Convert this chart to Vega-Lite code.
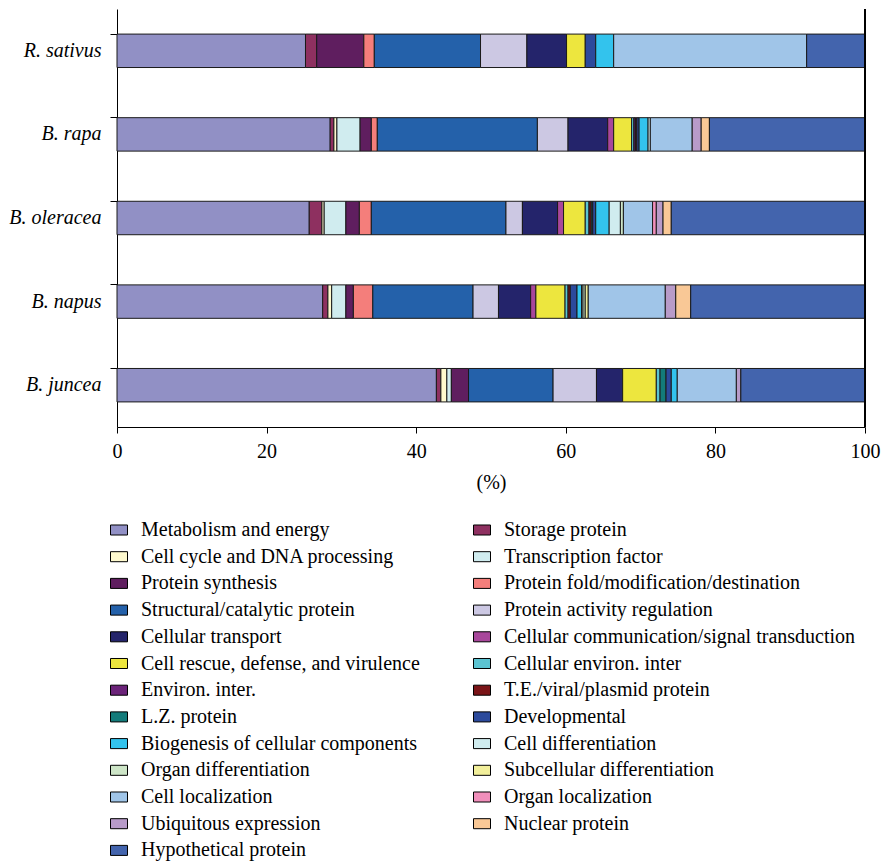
{
  "$schema": "https://vega.github.io/schema/vega-lite/v6.json",
  "width": 748,
  "height": 418,
  "autosize": {"type": "none"},
  "padding": {"left": 117, "top": 9, "right": 17, "bottom": 434},
  "background": "white",
  "config": {
    "view": {"stroke": null},
    "font": "Liberation Serif"
  },
  "data": {
    "values": [
      {"species": "R. sativus", "category": "Metabolism and energy", "value": 25.2},
      {"species": "R. sativus", "category": "Storage protein", "value": 1.5},
      {"species": "R. sativus", "category": "Protein synthesis", "value": 6.3},
      {"species": "R. sativus", "category": "Protein fold/modification/destination", "value": 1.4},
      {"species": "R. sativus", "category": "Structural/catalytic protein", "value": 14.2},
      {"species": "R. sativus", "category": "Protein activity regulation", "value": 6.2},
      {"species": "R. sativus", "category": "Cellular transport", "value": 5.3},
      {"species": "R. sativus", "category": "Cell rescue, defense, and virulence", "value": 2.5},
      {"species": "R. sativus", "category": "Developmental", "value": 1.4},
      {"species": "R. sativus", "category": "Biogenesis of cellular components", "value": 2.4},
      {"species": "R. sativus", "category": "Cell localization", "value": 25.8},
      {"species": "R. sativus", "category": "Hypothetical protein", "value": 7.8},

      {"species": "B. rapa", "category": "Metabolism and energy", "value": 28.5},
      {"species": "B. rapa", "category": "Storage protein", "value": 0.5},
      {"species": "B. rapa", "category": "Cell cycle and DNA processing", "value": 0.4},
      {"species": "B. rapa", "category": "Transcription factor", "value": 3.1},
      {"species": "B. rapa", "category": "Protein synthesis", "value": 1.5},
      {"species": "B. rapa", "category": "Protein fold/modification/destination", "value": 0.8},
      {"species": "B. rapa", "category": "Structural/catalytic protein", "value": 21.4},
      {"species": "B. rapa", "category": "Protein activity regulation", "value": 4.1},
      {"species": "B. rapa", "category": "Cellular transport", "value": 5.3},
      {"species": "B. rapa", "category": "Cellular communication/signal transduction", "value": 0.8},
      {"species": "B. rapa", "category": "Cell rescue, defense, and virulence", "value": 2.4},
      {"species": "B. rapa", "category": "Cellular environ. inter", "value": 0.3},
      {"species": "B. rapa", "category": "Environ. inter.", "value": 0.2},
      {"species": "B. rapa", "category": "T.E./viral/plasmid protein", "value": 0.2},
      {"species": "B. rapa", "category": "Developmental", "value": 0.3},
      {"species": "B. rapa", "category": "Biogenesis of cellular components", "value": 1.2},
      {"species": "B. rapa", "category": "Cell differentiation", "value": 0.3},
      {"species": "B. rapa", "category": "Cell localization", "value": 5.6},
      {"species": "B. rapa", "category": "Ubiquitous expression", "value": 1.2},
      {"species": "B. rapa", "category": "Nuclear protein", "value": 1.1},
      {"species": "B. rapa", "category": "Hypothetical protein", "value": 20.8},

      {"species": "B. oleracea", "category": "Metabolism and energy", "value": 25.7},
      {"species": "B. oleracea", "category": "Storage protein", "value": 1.7},
      {"species": "B. oleracea", "category": "Cell cycle and DNA processing", "value": 0.3},
      {"species": "B. oleracea", "category": "Transcription factor", "value": 2.9},
      {"species": "B. oleracea", "category": "Protein synthesis", "value": 1.8},
      {"species": "B. oleracea", "category": "Protein fold/modification/destination", "value": 1.6},
      {"species": "B. oleracea", "category": "Structural/catalytic protein", "value": 18.0},
      {"species": "B. oleracea", "category": "Protein activity regulation", "value": 2.2},
      {"species": "B. oleracea", "category": "Cellular transport", "value": 4.7},
      {"species": "B. oleracea", "category": "Cellular communication/signal transduction", "value": 0.8},
      {"species": "B. oleracea", "category": "Cell rescue, defense, and virulence", "value": 2.9},
      {"species": "B. oleracea", "category": "Cellular environ. inter", "value": 0.5},
      {"species": "B. oleracea", "category": "T.E./viral/plasmid protein", "value": 0.3},
      {"species": "B. oleracea", "category": "L.Z. protein", "value": 0.2},
      {"species": "B. oleracea", "category": "Developmental", "value": 0.4},
      {"species": "B. oleracea", "category": "Biogenesis of cellular components", "value": 1.8},
      {"species": "B. oleracea", "category": "Cell differentiation", "value": 1.5},
      {"species": "B. oleracea", "category": "Organ differentiation", "value": 0.4},
      {"species": "B. oleracea", "category": "Cell localization", "value": 3.9},
      {"species": "B. oleracea", "category": "Organ localization", "value": 0.5},
      {"species": "B. oleracea", "category": "Ubiquitous expression", "value": 0.9},
      {"species": "B. oleracea", "category": "Nuclear protein", "value": 1.1},
      {"species": "B. oleracea", "category": "Hypothetical protein", "value": 25.9},

      {"species": "B. napus", "category": "Metabolism and energy", "value": 27.5},
      {"species": "B. napus", "category": "Storage protein", "value": 0.7},
      {"species": "B. napus", "category": "Cell cycle and DNA processing", "value": 0.5},
      {"species": "B. napus", "category": "Transcription factor", "value": 1.9},
      {"species": "B. napus", "category": "Protein synthesis", "value": 1.0},
      {"species": "B. napus", "category": "Protein fold/modification/destination", "value": 2.6},
      {"species": "B. napus", "category": "Structural/catalytic protein", "value": 13.4},
      {"species": "B. napus", "category": "Protein activity regulation", "value": 3.4},
      {"species": "B. napus", "category": "Cellular transport", "value": 4.3},
      {"species": "B. napus", "category": "Cellular communication/signal transduction", "value": 0.7},
      {"species": "B. napus", "category": "Cell rescue, defense, and virulence", "value": 3.9},
      {"species": "B. napus", "category": "Cellular environ. inter", "value": 0.4},
      {"species": "B. napus", "category": "T.E./viral/plasmid protein", "value": 0.3},
      {"species": "B. napus", "category": "Developmental", "value": 0.9},
      {"species": "B. napus", "category": "Biogenesis of cellular components", "value": 0.6},
      {"species": "B. napus", "category": "Cell differentiation", "value": 0.2},
      {"species": "B. napus", "category": "Organ differentiation", "value": 0.3},
      {"species": "B. napus", "category": "Subcellular differentiation", "value": 0.4},
      {"species": "B. napus", "category": "Cell localization", "value": 10.3},
      {"species": "B. napus", "category": "Ubiquitous expression", "value": 1.4},
      {"species": "B. napus", "category": "Nuclear protein", "value": 2.0},
      {"species": "B. napus", "category": "Hypothetical protein", "value": 23.3},

      {"species": "B. juncea", "category": "Metabolism and energy", "value": 42.7},
      {"species": "B. juncea", "category": "Storage protein", "value": 0.6},
      {"species": "B. juncea", "category": "Cell cycle and DNA processing", "value": 0.8},
      {"species": "B. juncea", "category": "Transcription factor", "value": 0.6},
      {"species": "B. juncea", "category": "Protein synthesis", "value": 2.3},
      {"species": "B. juncea", "category": "Structural/catalytic protein", "value": 11.3},
      {"species": "B. juncea", "category": "Protein activity regulation", "value": 5.8},
      {"species": "B. juncea", "category": "Cellular transport", "value": 3.5},
      {"species": "B. juncea", "category": "Cell rescue, defense, and virulence", "value": 4.5},
      {"species": "B. juncea", "category": "Cellular environ. inter", "value": 0.5},
      {"species": "B. juncea", "category": "L.Z. protein", "value": 0.8},
      {"species": "B. juncea", "category": "Developmental", "value": 0.7},
      {"species": "B. juncea", "category": "Biogenesis of cellular components", "value": 0.8},
      {"species": "B. juncea", "category": "Cell localization", "value": 7.9},
      {"species": "B. juncea", "category": "Ubiquitous expression", "value": 0.6},
      {"species": "B. juncea", "category": "Hypothetical protein", "value": 16.6}
    ]
  },
  "layer": [
    {
      "transform": [
        {"window": [{"op": "row_number", "as": "seq"}], "groupby": ["species"]}
      ],
      "mark": {"type": "bar", "stroke": "#1a1a1a", "strokeWidth": 1},
      "encoding": {
        "y": {
          "field": "species",
          "type": "nominal",
          "sort": ["R. sativus", "B. rapa", "B. oleracea", "B. napus", "B. juncea"],
          "scale": {"paddingInner": 0.6, "paddingOuter": 0.3},
          "axis": {
            "title": null,
            "domainColor": "#000",
            "tickColor": "#000",
            "tickSize": 7,
            "bandPosition": 0,
            "labelPadding": 9,
            "labelFont": "Liberation Serif",
            "labelFontStyle": "italic",
            "labelFontSize": 20,
            "labelColor": "#000"
          }
        },
        "x": {
          "field": "value",
          "type": "quantitative",
          "stack": "zero",
          "scale": {"domain": [0, 100], "nice": false, "zero": true},
          "axis": {
            "title": "(%)",
            "titleFont": "Liberation Serif",
            "titleFontWeight": "normal",
            "titleFontSize": 20,
            "titleColor": "#000",
            "titlePadding": 11,
            "values": [0, 20, 40, 60, 80, 100],
            "grid": false,
            "domainColor": "#000",
            "tickColor": "#000",
            "tickSize": 6,
            "labelPadding": 8,
            "labelFont": "Liberation Serif",
            "labelFontSize": 20,
            "labelColor": "#000",
            "labelFlush": false
          }
        },
        "order": {"field": "seq", "type": "quantitative"},
        "color": {
          "field": "category",
          "type": "nominal",
          "scale": {
            "domain": [
              "Metabolism and energy",
              "Cell cycle and DNA processing",
              "Protein synthesis",
              "Structural/catalytic protein",
              "Cellular transport",
              "Cell rescue, defense, and virulence",
              "Environ. inter.",
              "L.Z. protein",
              "Biogenesis of cellular components",
              "Organ differentiation",
              "Cell localization",
              "Ubiquitous expression",
              "Hypothetical protein",
              "Storage protein",
              "Transcription factor",
              "Protein fold/modification/destination",
              "Protein activity regulation",
              "Cellular communication/signal transduction",
              "Cellular environ. inter",
              "T.E./viral/plasmid protein",
              "Developmental",
              "Cell differentiation",
              "Subcellular differentiation",
              "Organ localization",
              "Nuclear protein"
            ],
            "range": [
              "#9190C5",
              "#FEF9CE",
              "#5F1E5F",
              "#2461AA",
              "#24246B",
              "#EDE63E",
              "#6B2379",
              "#137B7A",
              "#33C3ED",
              "#CDE5C7",
              "#A0C5E8",
              "#B89BC9",
              "#4364AD",
              "#8E3060",
              "#D0ECEF",
              "#F47E7B",
              "#CCC8E3",
              "#A8479B",
              "#5CC4D2",
              "#7A1417",
              "#2C4A9C",
              "#D0ECEF",
              "#F2EF9B",
              "#F18FBB",
              "#F9C896"
            ]
          },
          "legend": {
            "title": null,
            "orient": "none",
            "legendX": -8,
            "legendY": 511,
            "columns": 2,
            "columnPadding": 51,
            "rowPadding": 6.7,
            "symbolType": "M-1,-0.59H1V0.59H-1Z",
            "symbolSize": 289,
            "symbolStrokeColor": "#000",
            "symbolStrokeWidth": 1,
            "symbolOpacity": 1,
            "labelOffset": 12,
            "labelFont": "Liberation Serif",
            "labelFontSize": 20,
            "labelColor": "#000",
            "labelLimit": 0
          }
        }
      }
    },
    {
      "mark": {"type": "rule", "color": "#000", "strokeWidth": 1},
      "encoding": {"x": {"datum": 100}}
    }
  ]
}
